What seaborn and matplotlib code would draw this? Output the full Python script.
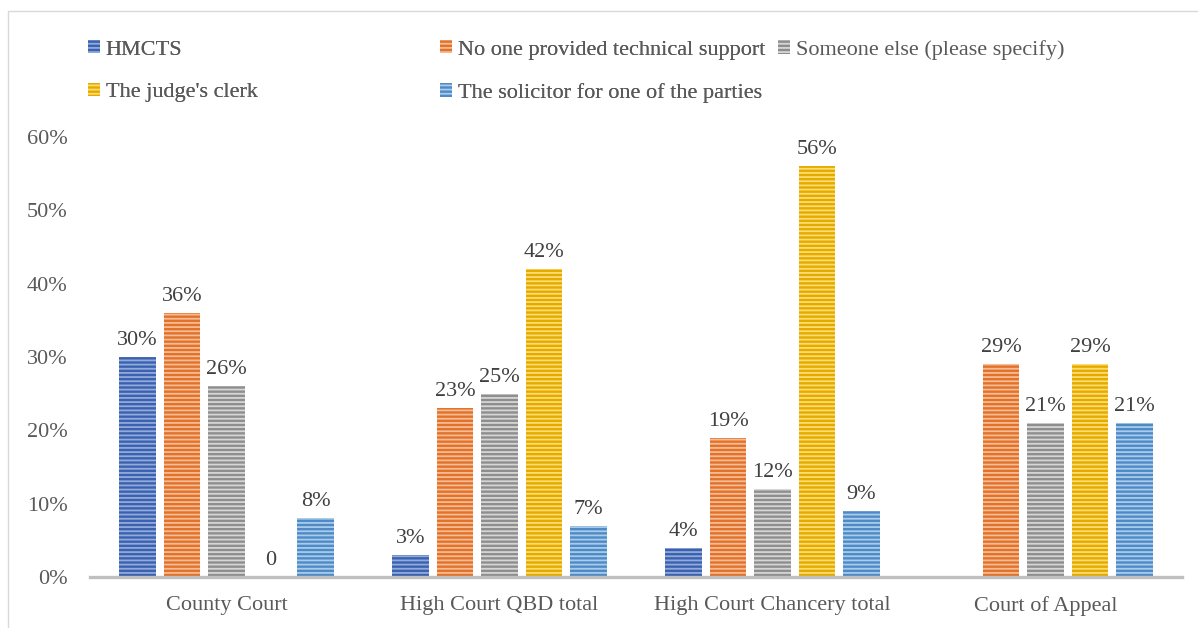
import numpy as np
import pandas as pd
import matplotlib
matplotlib.use("Agg")
import matplotlib.pyplot as plt
from matplotlib.patches import Patch, Rectangle
from matplotlib.ticker import FuncFormatter
import seaborn as sns

categories = ["County Court", "High Court QBD total", "High Court Chancery total", "Court of Appeal"]
series = ["HMCTS", "No one provided technical support", "Someone else (please specify)",
          "The judge's clerk", "The solicitor for one of the parties"]
hmcts = [30, 3, 4, np.nan]
no_one = [36, 23, 19, 29]
someone_else = [26, 25, 12, 21]
judges_clerk = [0, 42, 56, 29]
solicitor = [8, 7, 9, 21]
yticks = [0, 10, 20, 30, 40, 50, 60]

face_colors = ["#3A62B0", "#E07229", "#8E8E8E", "#E3AB00", "#4E8BC6"]
stripe_colors = ["#93AADA", "#F7BC95", "#D6D6D6", "#FFDC70", "#AACBEA"]
HATCH = "----"

rows = []
for s, vals in zip(series, [hmcts, no_one, someone_else, judges_clerk, solicitor]):
    for c, v in zip(categories, vals):
        rows.append({"category": c, "series": s, "value": v})
df = pd.DataFrame(rows)

sns.set_theme(style="white")
plt.rcParams["font.family"] = ["Liberation Serif", "DejaVu Serif"]
plt.rcParams["hatch.linewidth"] = 1.3

FS = 16
fig = plt.figure(figsize=(11.98, 6.28), dpi=100)
ax = fig.add_axes([90 / 1198, 1 - 577 / 628, (1182 - 90) / 1198, (577 - 137) / 628])

sns.barplot(data=df, x="category", y="value", hue="series", order=categories,
            hue_order=series, palette=face_colors, width=0.815, gap=0.17,
            legend=False, ax=ax, saturation=1, errorbar=None)

for cont, fc, sc in zip(ax.containers, face_colors, stripe_colors):
    for p in cont:
        p.set_facecolor(fc)
        p.set_edgecolor(sc)
        p.set_hatch(HATCH)
        p.set_linewidth(0)
    labels = []
    for v in cont.datavalues:
        if np.isnan(v):
            labels.append("")
        elif v == 0:
            labels.append("0")
        else:
            labels.append(f"{v:.0f}%")
    ax.bar_label(cont, labels=labels, padding=5, fontsize=FS, color="#404040")

ax.set_ylim(0, 60)
ax.set_xlim(-0.5, 3.5)
ax.set_yticks(yticks)
ax.yaxis.set_major_formatter(FuncFormatter(lambda v, p: f"{v:.0f}%"))
ax.set_xlabel("")
ax.set_ylabel("")
for side in ["top", "right", "left"]:
    ax.spines[side].set_visible(False)
ax.spines["bottom"].set_color("#BFBFBF")
ax.spines["bottom"].set_linewidth(2.4)
ax.tick_params(axis="y", length=0, pad=16, labelsize=FS, labelcolor="#595959")
ax.tick_params(axis="x", length=0, pad=14, labelsize=FS, labelcolor="#595959")

handles = [Patch(facecolor=fc, edgecolor=sc, hatch=HATCH, linewidth=0, label=s)
           for s, fc, sc in zip(series, face_colors, stripe_colors)]

def add_leg(hs, x_px):
    leg = fig.legend(handles=hs, loc="upper left", bbox_to_anchor=(x_px / 1198, 1 - 40 / 628),
                     frameon=False, fontsize=FS, labelcolor="#595959", handlelength=0.55,
                     handleheight=0.55, handletextpad=0.25, labelspacing=1.05, borderpad=0,
                     borderaxespad=0)
    return leg

l1 = add_leg([handles[0], handles[3]], 88)
l2 = add_leg([handles[1], handles[4]], 440)
l3 = add_leg([handles[2]], 778)
fig.add_artist(l1)
fig.add_artist(l2)

fig.add_artist(Rectangle((8 / 1198, -0.05), 1.2, 1.05 - 11 / 628, transform=fig.transFigure,
                         fill=False, edgecolor="#D9D9D9", linewidth=1))

fig.savefig("out.png", dpi=100)
